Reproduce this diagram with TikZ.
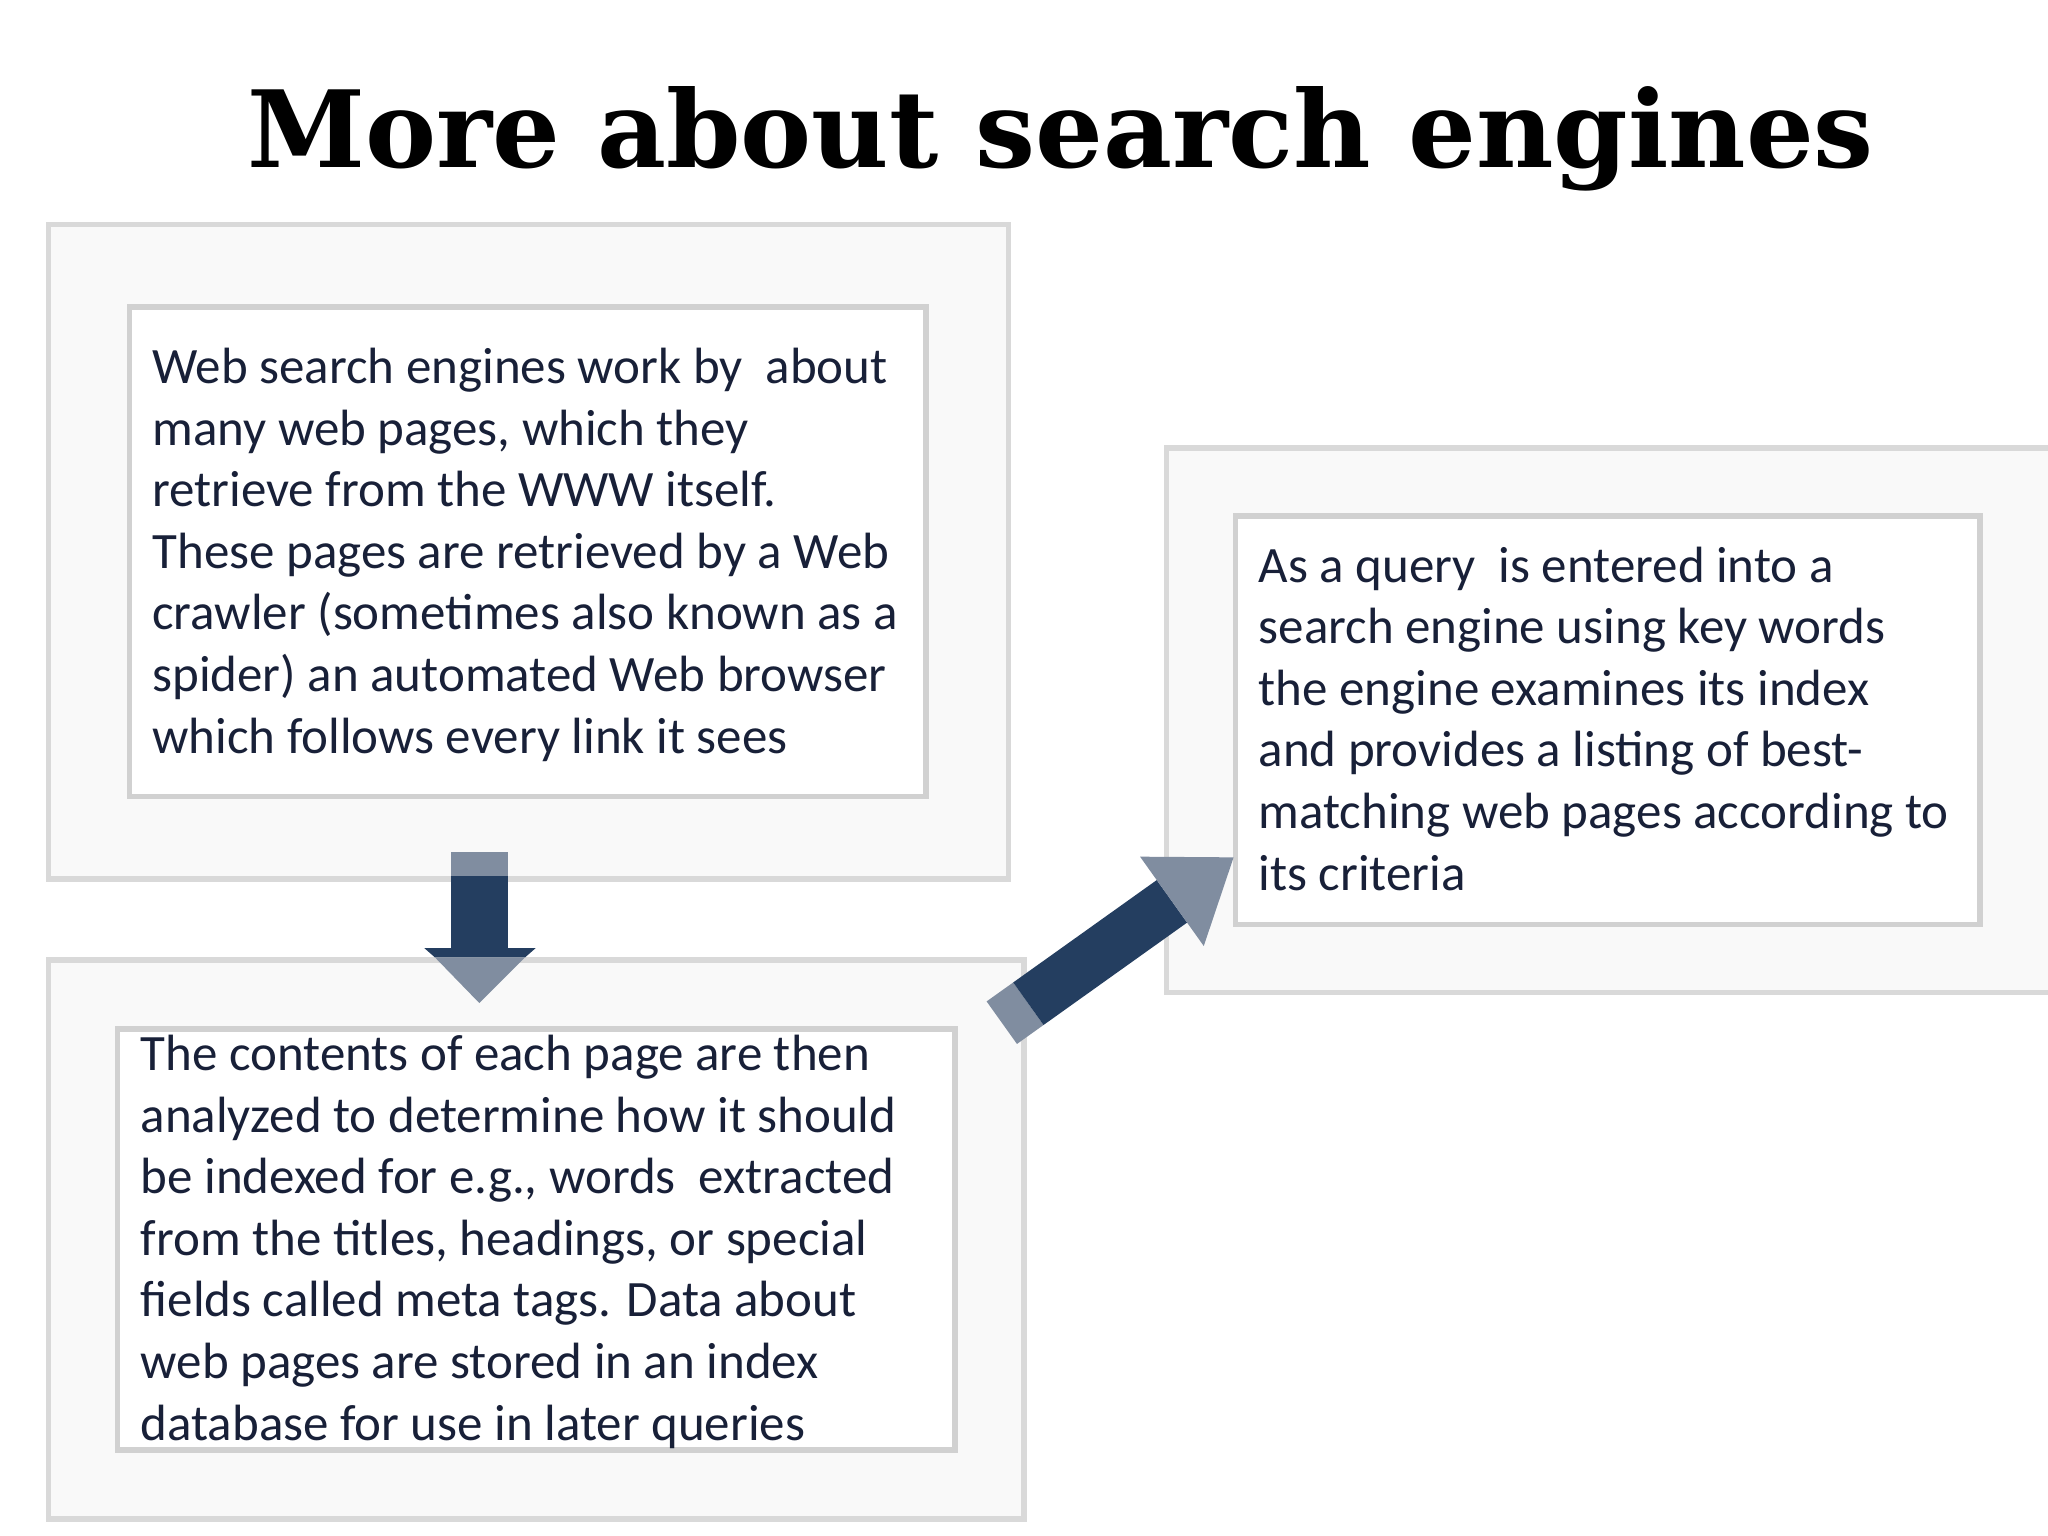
\documentclass[tikz,border=0pt]{standalone}
\usepackage{fontspec}
\setmainfont{Carlito}
\newfontfamily\titlefont{DejaVu Serif}
\definecolor{navy}{RGB}{36,62,96}
\definecolor{slate}{RGB}{128,141,160}
\definecolor{txtc}{RGB}{24,32,56}
\begin{document}
\begin{tikzpicture}[x=0.01cm,y=-0.01cm,
  outerbox/.style={draw=black!15,line width=1.2pt,fill=black!2.5},
  innerbox/.style={draw=black!18,line width=1.2pt,fill=white},
  txt/.style={anchor=north west,align=left,font=\fontsize{11.1pt}{13.4pt}\selectfont,text=txtc,inner sep=0pt}]
\useasboundingbox (0,0) rectangle (1568,1176);
\fill[white] (0,0) rectangle (1568,1176);
\node (title) at (812,106) {\resizebox{12.45cm}{!}{\titlefont\bfseries More about search engines}};
\draw[outerbox] (37,172) rectangle (772,673);
\draw[innerbox] (99,235) rectangle (709,610);
\draw[outerbox] (37,735) rectangle (784,1163);
\draw[innerbox] (90,788) rectangle (731,1110);
\draw[outerbox] (893,343) rectangle (1575,760);
\draw[innerbox] (946,395) rectangle (1516,708);
\node[txt] (t1) at (116,266) {Web search engines work by~ about\\many web pages, which they\\retrieve from the WWW itself.\\These pages are retrieved by a Web\\crawler (sometimes also known as a\\spider) an automated Web browser\\which follows every link it sees};
\node[txt] (t2) at (107,792) {The contents of each page are then\\analyzed to determine how it should\\be indexed for e.g., words~ extracted\\from the titles, headings, or special\\fields called meta tags. Data about\\web pages are stored in an index\\database for use in later queries};
\node[txt] (t3) at (963,418) {As a query~ is entered into a\\search engine using key words\\the engine examines its index\\and provides a listing of best-\\matching web pages according to\\its criteria};
% down arrow
\fill[slate] (345,652) rectangle (389,671);
\fill[navy] (345,671) rectangle (389,726);
\fill[navy] (325,726) -- (410,726) -- (402,733) -- (333,733) -- cycle;
\fill[slate] (333,733) -- (402,733) -- (367,768) -- cycle;
% diagonal arrow
\begin{scope}[shift={(767,783)},rotate=35.5]
\fill[slate] (0,-20) rectangle (25,20);
\fill[navy] (25,-20) rectangle (160,20);
\fill[slate] (160,-20) -- (160,-42) -- (218,0) -- (160,42) -- (160,20) -- cycle;
\end{scope}
\end{tikzpicture}
\end{document}
